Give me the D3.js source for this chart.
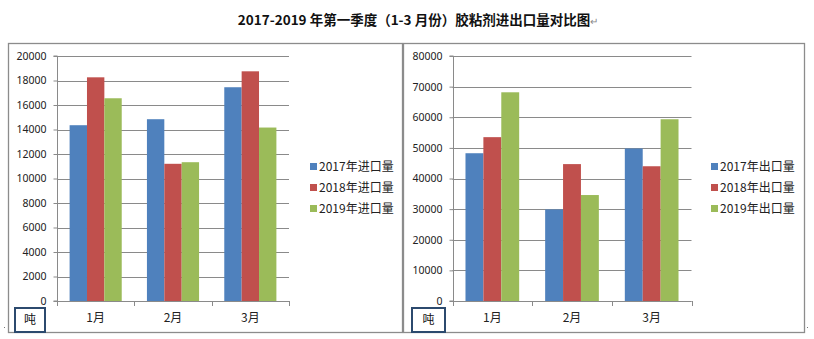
<!DOCTYPE html>
<html>
<head>
<meta charset="utf-8">
<script src="https://cdn.jsdelivr.net/npm/d3@7"></script>
<style>
  html, body { margin: 0; padding: 0; background: #fff; }
  svg { display: block; font-family: "Noto Sans CJK SC", "Noto Sans", sans-serif; }
</style>
</head>
<body>
<svg id="chart" width="814" height="339"></svg>
<script>
// Months on the category axis
const months = ["1月", "2月", "3月"];

// Import volumes (tonnes)
const importSeries = ["2017年进口量", "2018年进口量", "2019年进口量"];
const import2017 = [14350, 14840, 17450];
const import2018 = [18260, 11200, 18750];
const import2019 = [16550, 11330, 14160];

// Export volumes (tonnes)
const exportSeries = ["2017年出口量", "2018年出口量", "2019年出口量"];
const export2017 = [48250, 29900, 49800];
const export2018 = [53500, 44700, 44000];
const export2019 = [68150, 34600, 59350];

// Axis ticks
const importTicks = [0, 2000, 4000, 6000, 8000, 10000, 12000, 14000, 16000, 18000, 20000];
const exportTicks = [0, 10000, 20000, 30000, 40000, 50000, 60000, 70000, 80000];

const colors = ["#4F81BD", "#C0504D", "#9BBB59"];

const svg = d3.select("#chart");

// Title
const title = svg.append("text")
  .attr("x", 418).attr("y", 25)
  .attr("text-anchor", "middle")
  .attr("font-size", 13.5)
  .attr("font-weight", "bold")
  .attr("fill", "#111")
  .text("2017-2019 年第一季度（1-3 月份）胶粘剂进出口量对比图");
title.append("tspan").attr("font-weight", "normal").attr("font-size", 10).attr("fill", "#888").text("↵");

function drawPanel(cfg) {
  const g = svg.append("g");

  // frame
  g.append("rect")
    .attr("x", cfg.frame[0] + 0.5).attr("y", cfg.frame[1] + 0.5)
    .attr("width", cfg.frame[2]).attr("height", cfg.frame[3])
    .attr("fill", "none").attr("stroke", "#8c8c8c").attr("stroke-width", 1.3);

  const y = d3.scaleLinear().domain([0, cfg.max]).range([cfg.yBottom, cfg.yTop]);
  const x0 = d3.scaleBand().domain(months).range([cfg.xLeft, cfg.xRight]).padding(0);
  const bw = x0.bandwidth();
  const x1 = d3.scaleBand().domain(d3.range(cfg.series.length))
    .range([bw * 0.163, bw * 0.837]).padding(0);

  // gridlines
  g.append("g").selectAll("line").data(cfg.ticks).join("line")
    .attr("x1", cfg.xLeft).attr("x2", cfg.xRight)
    .attr("y1", d => Math.round(y(d)) + 0.5).attr("y2", d => Math.round(y(d)) + 0.5)
    .attr("stroke", "#8a8a8a").attr("stroke-width", 1);

  // bars
  const rows = months.map((m, i) => ({ m, vals: cfg.values.map(v => v[i]) }));
  g.append("g").selectAll("g").data(rows).join("g")
    .attr("transform", d => `translate(${x0(d.m)},0)`)
    .selectAll("rect").data(d => d.vals.map((v, k) => ({ v, k }))).join("rect")
    .attr("x", d => x1(d.k)).attr("width", x1.bandwidth())
    .attr("y", d => y(d.v)).attr("height", d => y(0) - y(d.v))
    .attr("fill", d => colors[d.k]);

  // y axis
  const yAxis = d3.axisLeft(y).tickValues(cfg.ticks).tickSize(4).tickPadding(7).tickFormat(d3.format("d"));
  const ya = g.append("g").attr("transform", `translate(${Math.round(cfg.xLeft) + 0.5},0)`).call(yAxis);
  ya.select(".domain").attr("stroke", "#8a8a8a").attr("d", `M-4,${cfg.yTop}H0V${cfg.yBottom}H-4`);
  ya.selectAll(".tick line").attr("stroke", "#8a8a8a");
  ya.selectAll(".tick text").attr("font-size", 10.5).attr("fill", "#222")
    .attr("font-family", "'Noto Sans', sans-serif");

  // x axis baseline and category ticks
  const xa = g.append("g");
  xa.append("line")
    .attr("x1", cfg.xLeft).attr("x2", cfg.xRight)
    .attr("y1", Math.round(y(0)) + 0.5).attr("y2", Math.round(y(0)) + 0.5)
    .attr("stroke", "#8a8a8a");
  const bounds = months.map(m => x0(m)).concat([cfg.xRight]);
  xa.selectAll("line.tk").data(bounds).join("line").attr("class", "tk")
    .attr("x1", d => Math.round(d) + 0.5).attr("x2", d => Math.round(d) + 0.5)
    .attr("y1", y(0)).attr("y2", y(0) + 5)
    .attr("stroke", "#8a8a8a");
  xa.selectAll("text").data(months).join("text")
    .attr("x", d => x0(d) + bw / 2).attr("y", cfg.yBottom + 21)
    .attr("text-anchor", "middle").attr("font-size", 12).attr("fill", "#222")
    .text(d => d);

  // legend
  const lg = g.append("g");
  cfg.series.forEach((s, i) => {
    const cy = cfg.legendY + i * 21;
    lg.append("rect").attr("x", cfg.legendX).attr("y", cy - 3.5).attr("width", 7).attr("height", 7).attr("fill", colors[i]);
    lg.append("text").attr("x", cfg.legendX + 9).attr("y", cy).attr("dy", "0.36em")
      .attr("font-size", 12).attr("fill", "#222").text(s);
  });

  // unit box
  g.append("rect")
    .attr("x", cfg.unitBox[0]).attr("y", cfg.unitBox[1])
    .attr("width", cfg.unitBox[2]).attr("height", cfg.unitBox[3])
    .attr("fill", "#fff").attr("stroke", "#2c4a6e").attr("stroke-width", 2);
  g.append("text")
    .attr("x", cfg.unitBox[0] + cfg.unitBox[2] / 2).attr("y", cfg.unitBox[1] + cfg.unitBox[3] / 2)
    .attr("dy", "0.36em").attr("text-anchor", "middle").attr("font-size", 12).attr("fill", "#111")
    .text("吨");
}

drawPanel({
  frame: [8, 43, 394, 289],
  max: 20000, ticks: importTicks,
  xLeft: 57, xRight: 289, yTop: 56, yBottom: 301,
  series: importSeries, values: [import2017, import2018, import2019],
  legendX: 310, legendY: 166.5,
  unitBox: [15, 308, 30, 24]
});

drawPanel({
  frame: [403, 43, 401, 289],
  max: 80000, ticks: exportTicks,
  xLeft: 452.5, xRight: 691.5, yTop: 56, yBottom: 301,
  series: exportSeries, values: [export2017, export2018, export2019],
  legendX: 711, legendY: 166.5,
  unitBox: [412, 308, 33, 24]
});

// small corner marks at the foot of the frames
svg.append("rect").attr("x", 4).attr("y", 327).attr("width", 1).attr("height", 1).attr("fill", "#777");
svg.append("rect").attr("x", 807).attr("y", 327).attr("width", 1).attr("height", 1).attr("fill", "#777");
</script>
</body>
</html>
